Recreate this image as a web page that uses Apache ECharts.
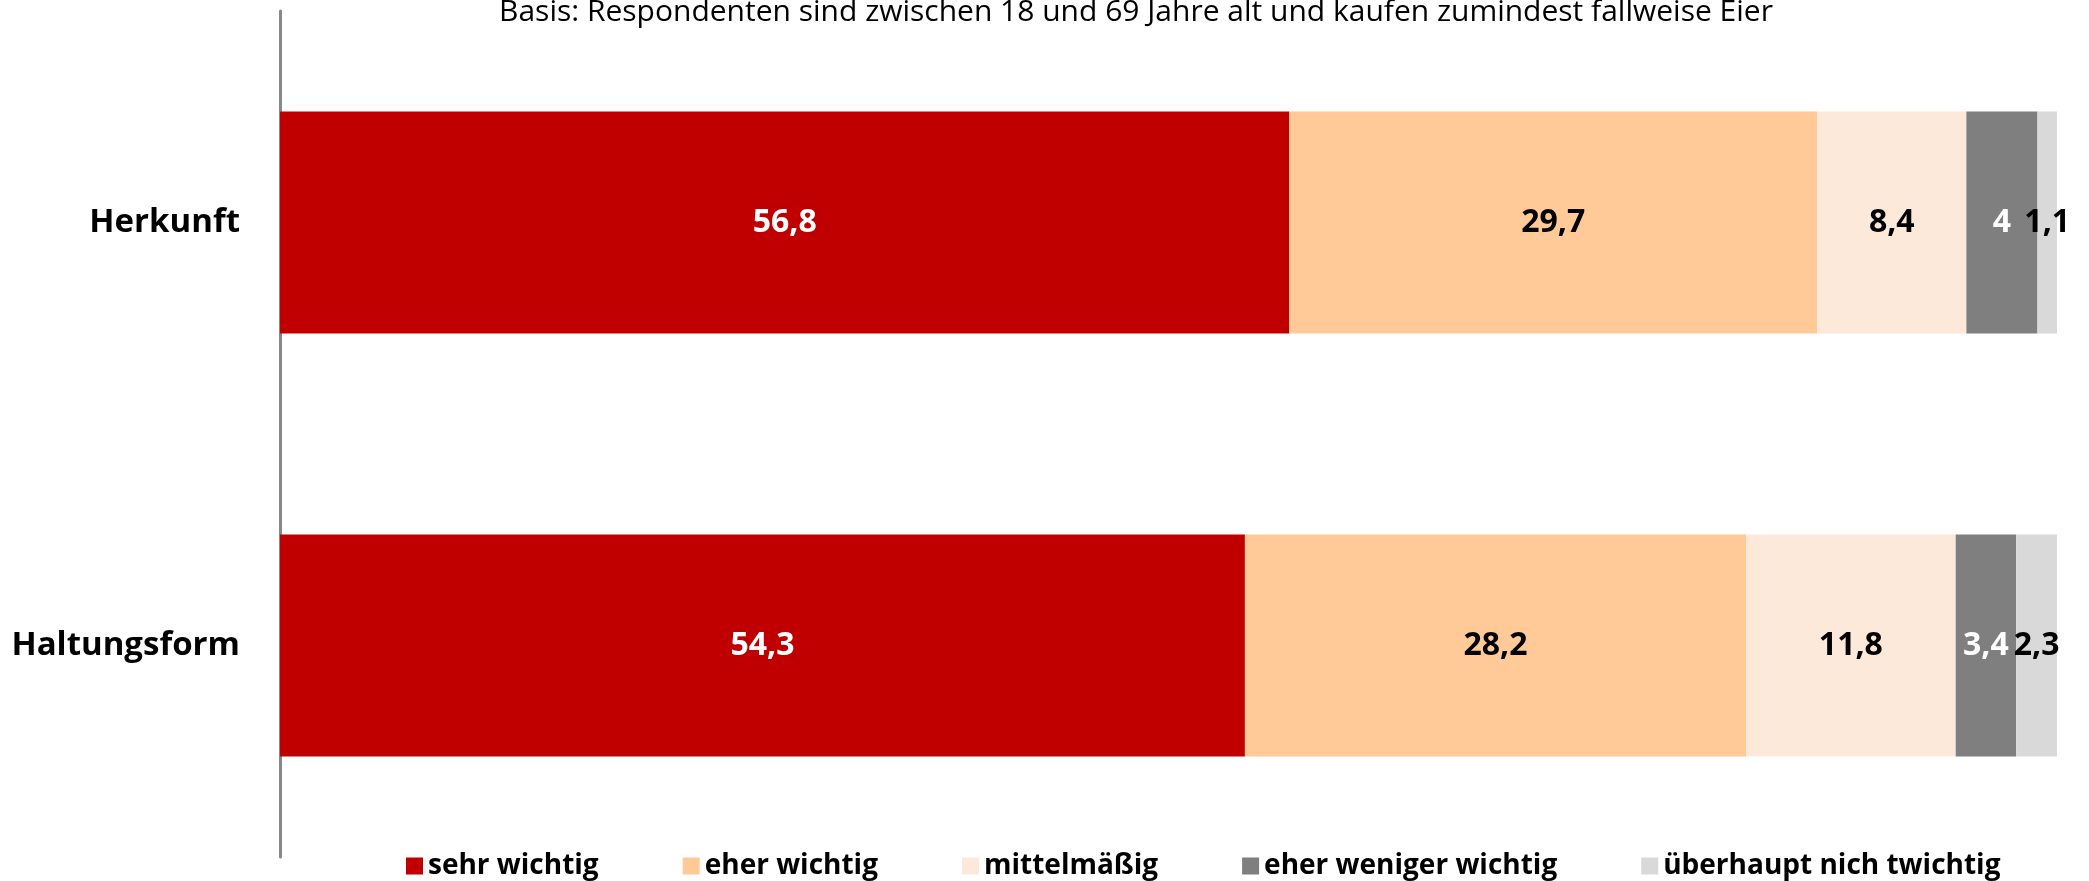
<!DOCTYPE html>
<html>
<head>
  <meta charset="utf-8">
  <title>Herkunft / Haltungsform</title>
  <script src="https://cdn.jsdelivr.net/npm/echarts@6/dist/echarts.min.js"></script>
  <style>
    html, body { margin: 0; padding: 0; background: #fff; }
    #chart { width: 2089px; height: 881px; }
  </style>
</head>
<body>
  <div id="chart"></div>
  <script>
    // Daten aus der Grafik
    let categories = ['Herkunft', 'Haltungsform'];
    let seriesNames = ['sehr wichtig', 'eher wichtig', 'mittelmäßig', 'eher weniger wichtig', 'überhaupt nich twichtig'];
    let sehrWichtig = [56.8, 54.3];
    let eherWichtig = [29.7, 28.2];
    let mittelmaessig = [8.4, 11.8];
    let eherWeniger = [4, 3.4];
    let ueberhauptNicht = [1.1, 2.3];

    let values = [sehrWichtig, eherWichtig, mittelmaessig, eherWeniger, ueberhauptNicht];
    let colorList = ['#C00000', '#FFCA98', '#FDE9DA', '#7F7F7F', '#D9D9D9'];
    let labelColors = ['#fff', '#000', '#000', '#fff', '#000'];

    let myChart = echarts.init(document.getElementById('chart'));

    let series = seriesNames.map(function (name, i) {
      return {
        name: name,
        type: 'bar',
        stack: 'total',
        barWidth: 222,
        data: values[i],
        itemStyle: { color: colorList[i] },
        label: {
          show: true,
          position: 'inside',
          color: labelColors[i],
          fontFamily: 'Open Sans',
          fontWeight: 'bold',
          fontSize: 32,
          formatter: function (p) {
            return String(p.value).replace('.', ',');
          }
        }
      };
    });

    let option = {
      animation: false,
      title: {
        text: 'Basis: Respondenten sind zwischen 18 und 69 Jahre alt und kaufen zumindest fallweise Eier',
        left: 1131,
        textAlign: 'center',
        top: -8,
        textStyle: {
          fontFamily: 'Open Sans',
          fontWeight: 'normal',
          fontSize: 30,
          color: '#000'
        }
      },
      legend: {
        data: seriesNames,
        left: 401,
        top: 847,
        itemWidth: 17,
        itemHeight: 17,
        itemGap: 84,
        icon: 'rect',
        textStyle: {
          fontFamily: 'Open Sans',
          fontWeight: 'bold',
          fontSize: 28,
          color: '#000'
        }
      },
      grid: {
        left: 280,
        right: 32,
        top: 11,
        bottom: 24
      },
      xAxis: {
        type: 'value',
        min: 0,
        max: 100,
        show: false
      },
      yAxis: {
        type: 'category',
        data: categories,
        inverse: true,
        axisLine: { show: true, lineStyle: { color: '#888', width: 3 } },
        axisTick: { show: false },
        axisLabel: {
          margin: 40,
          fontFamily: 'Open Sans',
          fontWeight: 'bold',
          fontSize: 33,
          color: '#000'
        }
      },
      series: series
    };
    myChart.setOption(option);
  </script>
</body>
</html>
